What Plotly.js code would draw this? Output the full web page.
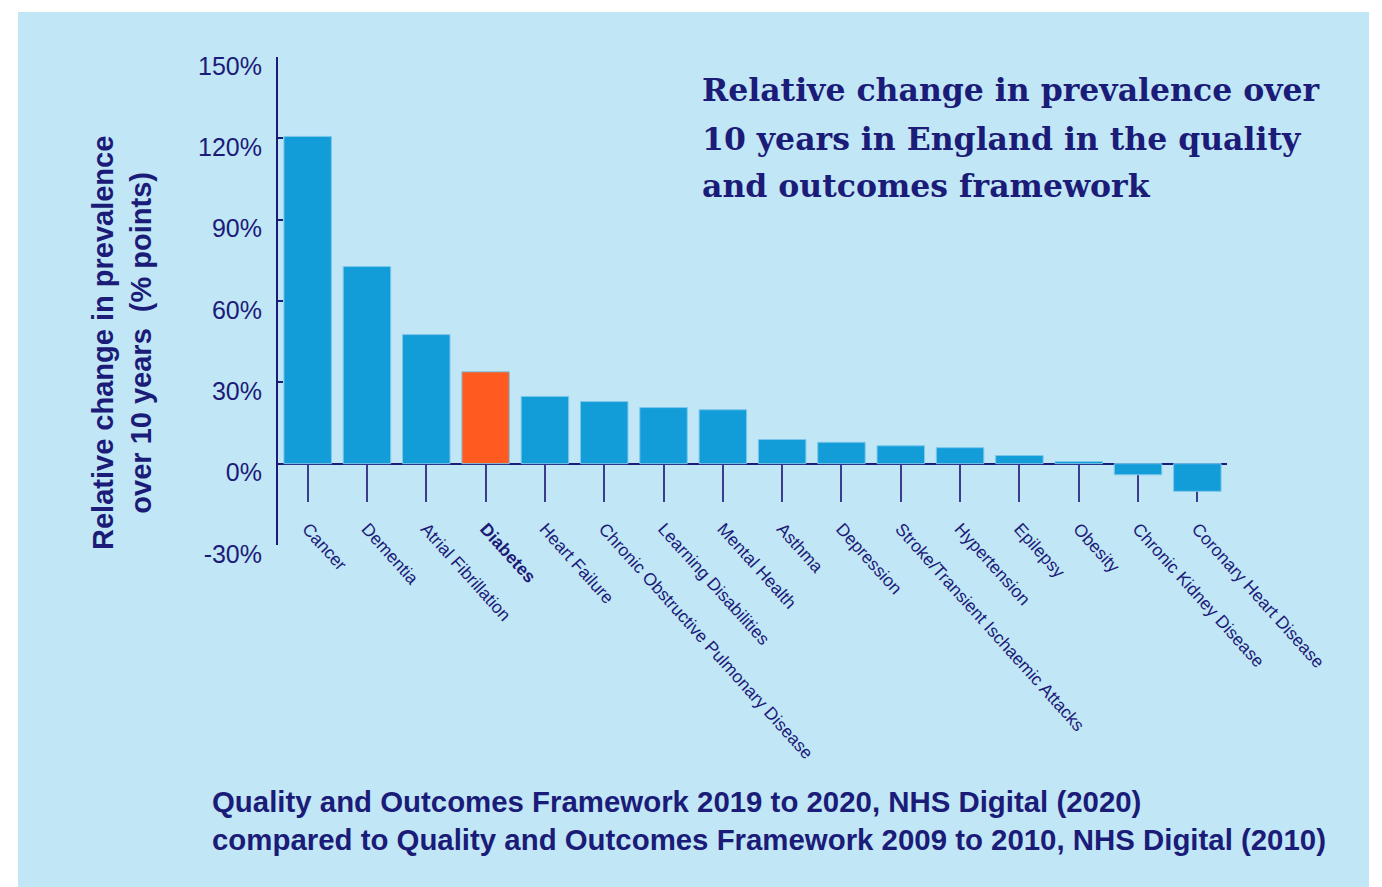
<!DOCTYPE html>
<html>
<head>
<meta charset="utf-8">
<script src="https://cdn.plot.ly/plotly-3.0.1.min.js"></script>
<style>
  html, body { margin: 0; padding: 0; background: #ffffff; width: 1382px; height: 887px; overflow: hidden; }
  #chart { position: absolute; left: 18px; top: 12px; width: 1351px; height: 875px; }
</style>
</head>
<body>
<div id="chart"></div>
<script>
const categories = [
  "Cancer", "Dementia", "Atrial Fibrillation", "Diabetes", "Heart Failure",
  "Chronic Obstructive Pulmonary Disease", "Learning Disabilities", "Mental Health",
  "Asthma", "Depression", "Stroke/Transient Ischaemic Attacks", "Hypertension",
  "Epilepsy", "Obesity", "Chronic Kidney Disease", "Coronary Heart Disease"
];
const changePct = [120.7, 72.7, 47.6, 33.9, 24.8, 22.9, 20.7, 19.9, 8.9, 7.9, 6.6, 5.9, 3.0, 0.8, -4.1, -10.2];
const highlight = "Diabetes";
const yTickVals = [-30, 0, 30, 60, 90, 120, 150];
const yTickText = ["-30%", "0%", "30%", "60%", "90%", "120%", "150%"];
const chartTitle = ["Relative change in prevalence over", "10 years in England in the quality", "and outcomes framework"];
const yTitle = "Relative change in prevalence<br>over 10 years  (% points)";
const sourceLines = [
  "Quality and Outcomes Framework 2019 to 2020, NHS Digital (2020)",
  "compared to Quality and Outcomes Framework 2009 to 2010, NHS Digital (2010)"
];

const NAVY = "#1b1b78";
const BLUE = "#129dd9";
const ORANGE = "#ff5a1f";
const BG = "#c1e6f6";

const barColors = categories.map(c => c === highlight ? ORANGE : BLUE);
const tickText = categories.map(c => c === highlight ? "<b>" + c + "</b>" : c);

const yMin = -30, yMax = 150;

const trace = {
  type: "bar",
  x: categories,
  y: changePct,
  marker: { color: barColors, line: { color: "#7cc7ea", width: 1 } },
  hoverinfo: "skip"
};

const titleY = [0.9324, 0.834, 0.7377];
const sourceY = [-0.5266, -0.6045];

const annotations = [];
chartTitle.forEach((t, i) => {
  annotations.push({
    text: "<b>" + t + "</b>", xref: "paper", yref: "paper",
    x: 0.4446, y: titleY[i], xanchor: "left", yanchor: "middle", align: "left",
    showarrow: false, font: { family: "DejaVu Serif", size: 31.5, color: NAVY }
  });
});
sourceLines.forEach((t, i) => {
  annotations.push({
    text: "<b>" + t + "</b>", xref: "paper", yref: "paper",
    x: -0.0716, y: sourceY[i], xanchor: "left", yanchor: "middle", align: "left",
    showarrow: false, font: { family: "Liberation Sans, Arial, sans-serif", size: 29.4, color: NAVY }
  });
});
annotations.push({
  text: "<b>" + yTitle + "</b>", xref: "paper", yref: "paper",
  x: -0.1644, y: 0.414, xanchor: "center", yanchor: "middle", align: "center",
  textangle: -90, showarrow: false,
  font: { family: "Liberation Sans, Arial, sans-serif", size: 29, color: NAVY }
});

const layout = {
  width: 1351, height: 875,
  margin: { l: 260, r: 142, t: 45, b: 342 },
  paper_bgcolor: BG, plot_bgcolor: BG,
  showlegend: false,
  bargap: 0.2,
  xaxis: {
    type: "category",
    anchor: "free", position: (0 - yMin) / (yMax - yMin),
    showline: true, linecolor: NAVY, linewidth: 2,
    showgrid: false, zeroline: false,
    layer: "below traces",
    ticks: "outside", ticklen: 37, tickwidth: 2, tickcolor: "#3c3c8e",
    tickangle: 48,
    tickvals: categories, ticktext: tickText,
    ticklabelstandoff: 10,
    tickfont: { family: "Liberation Sans, Arial, sans-serif", size: 17.5, color: NAVY },
    fixedrange: true
  },
  yaxis: {
    range: [yMin, yMax],
    showline: true, linecolor: NAVY, linewidth: 2,
    showgrid: false, zeroline: false,
    ticks: "inside", ticklen: 5, tickwidth: 2, tickcolor: NAVY,
    tickvals: yTickVals, ticktext: yTickText,
    ticklabelshift: 9, ticklabelstandoff: 9,
    tickfont: { family: "Liberation Sans, Arial, sans-serif", size: 25, color: NAVY },
    fixedrange: true
  },
  annotations: annotations
};

Plotly.newPlot("chart", [trace], layout, { displayModeBar: false, staticPlot: true });
</script>
</body>
</html>
